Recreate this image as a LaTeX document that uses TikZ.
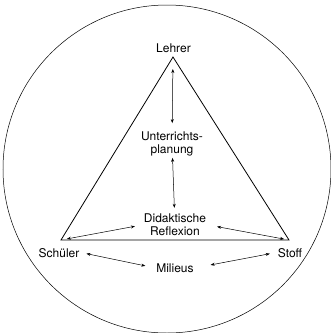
\documentclass[tikz,border=0pt]{standalone}
\usepackage{fontspec}
\setmainfont{TeX Gyre Heros}
\usetikzlibrary{arrows.meta}

\begin{document}
\begin{tikzpicture}[x=1pt,y=-1pt,
  lbl/.style={align=center,inner sep=2pt,font=\fontsize{12}{13}\selectfont},
  arr/.style={{Stealth[length=4pt,width=3pt]}-{Stealth[length=4pt,width=3pt]},line width=0.5pt},
  edge/.style={line width=0.8pt}]
  \useasboundingbox (0,0) rectangle (331,333);
  % umgebender Kreis und Dreieck
  \draw[line width=0.5pt] (167,169) circle[radius=164pt];
  \coordinate (top) at (173,57);
  \coordinate (left) at (61,240);
  \coordinate (right) at (289,240);
  \draw[edge] (top) -- (left) -- (right) -- cycle;
  % Beschriftungen
  \node[lbl,anchor=base] (lehrer) at (173.5,52) {Lehrer};
  \node[lbl] (plan) at (172,143.5) {Unterrichts-\\planung};
  \node[lbl] (reflex) at (175,225) {Didaktische\\Reflexion};
  \node[lbl,anchor=base] (schueler) at (59,257) {Schüler};
  \node[lbl,anchor=base] (stoff) at (290,257) {Stoff};
  \node[lbl,anchor=base] (milieu) at (175,272) {Milieus};
  % Wechselbeziehungen
  \draw[arr,shorten <=12pt,shorten >=6pt] (top) -- (plan);
  \draw[arr,shorten >=4pt] (plan) -- (reflex);
  \draw[arr,shorten <=6pt,shorten >=7pt] (left) -- (reflex.west);
  \draw[arr,shorten <=5pt,shorten >=9pt] (right) -- (reflex.east);
  \draw[arr,shorten <=5pt,shorten >=9pt] (schueler.east) -- (milieu.west);
  \draw[arr,shorten <=6pt,shorten >=15pt] (stoff.west) -- (milieu.east);
\end{tikzpicture}
\end{document}
